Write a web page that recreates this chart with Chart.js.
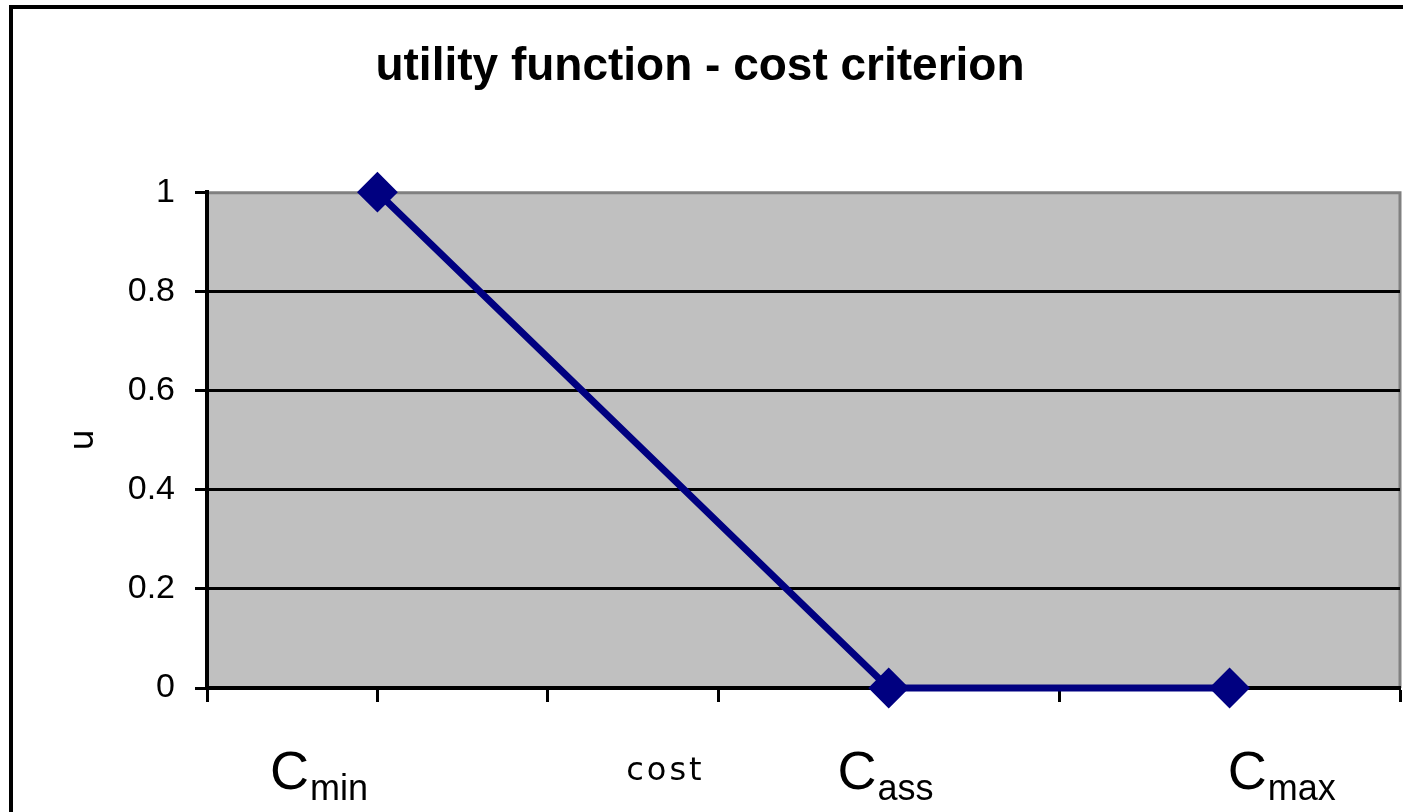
<!DOCTYPE html>
<html>
<head>
<meta charset="utf-8">
<script src="https://cdn.jsdelivr.net/npm/chart.js@4"></script>
<style>
    html, body { margin: 0; padding: 0; background: #ffffff; overflow: hidden; }
    #wrap { width: 1403px; height: 812px; }
</style>
</head>
<body>
<div id="wrap"><canvas id="utilityChart"></canvas></div>
<script>
// dữ liệu
var costX = [1, 4, 6];
var utilityY = [1, 0, 0];
var yTicks = [0, 0.2, 0.4, 0.6, 0.8, 1];
var noteMain = ["C", "C", "C"];
var noteSub = ["min", "ass", "max"];
var noteAt = [0.37, 3.7, 5.99];
var costLabel = "cost";
var costLabelAt = 2.46;

var points = costX.map(function (x, i) {
    return { x: x, y: utilityY[i] };
});

// nền xám, khung ngoài và chữ dưới trục x
var decorPlugin = {
    id: "decor",
    beforeDraw: function (chart) {
        var ctx = chart.ctx;
        var a = chart.chartArea;
        ctx.save();
        ctx.fillStyle = "#000000";
        ctx.fillRect(9, 5, 4, 812);
        ctx.fillRect(9, 5, 1403, 4);
        ctx.fillStyle = "#c0c0c0";
        ctx.fillRect(a.left, a.top, a.right - a.left, a.bottom - a.top);
        ctx.strokeStyle = "#808080";
        ctx.lineWidth = 3;
        ctx.beginPath();
        ctx.moveTo(a.left, a.top + 0.5);
        ctx.lineTo(a.right, a.top + 0.5);
        ctx.lineTo(a.right, a.bottom);
        ctx.stroke();
        ctx.restore();
    },
    afterDraw: function (chart) {
        var ctx = chart.ctx;
        var xs = chart.scales.x;
        ctx.save();
        ctx.fillStyle = "#000000";
        ctx.textBaseline = "alphabetic";
        ctx.textAlign = "left";
        for (var i = 0; i < noteMain.length; i++) {
            var px = xs.getPixelForValue(noteAt[i]);
            ctx.font = "54px 'Liberation Sans', Arial, sans-serif";
            ctx.fillText(noteMain[i], px, 789);
            var w = ctx.measureText(noteMain[i]).width;
            ctx.font = "36px 'Liberation Sans', Arial, sans-serif";
            ctx.fillText(noteSub[i], px + w + 1, 800);
        }
        ctx.font = "32px 'DejaVu Sans', sans-serif";
        ctx.letterSpacing = "3px";
        ctx.fillText(costLabel, xs.getPixelForValue(costLabelAt), 780);
        ctx.restore();
    },
};

var ctx = document.getElementById("utilityChart").getContext("2d");
var utilityChart = new Chart(ctx, {
    type: "scatter",
    data: {
        datasets: [
            {
                label: "u",
                data: points,
                showLine: true,
                borderColor: "#000080",
                backgroundColor: "#000080",
                borderWidth: 7,
                pointStyle: "rectRot",
                pointRadius: 19,
                pointHoverRadius: 19,
                pointBorderWidth: 2,
                clip: false,
            },
        ],
    },
    options: {
        responsive: true,
        maintainAspectRatio: false,
        animation: false,
        layout: {
            autoPadding: false,
            padding: { left: 0, top: 0, right: 3, bottom: 0 },
        },
        plugins: {
            legend: { display: false },
            tooltip: { enabled: false },
            title: {
                display: true,
                text: "utility function - cost criterion",
                color: "#000000",
                font: { family: "'Liberation Sans Narrow', 'Arial Narrow', Arial, sans-serif", size: 46, weight: "bold", lineHeight: 1.2 },
                padding: { top: 40, bottom: 97 },
            },
        },
        scales: {
            x: {
                type: "linear",
                min: 0,
                max: 7,
                ticks: { stepSize: 1, display: false },
                grid: {
                    drawOnChartArea: false,
                    drawTicks: true,
                    tickLength: 14,
                    tickWidth: 3,
                    tickColor: "#000000",
                },
                border: { color: "#000000", width: 4 },
                afterFit: function (scale) {
                    scale.height = 124;
                },
            },
            y: {
                min: 0,
                max: 1,
                afterBuildTicks: function (scale) {
                    scale.ticks = yTicks.map(function (v) {
                        return { value: v };
                    });
                },
                ticks: {
                    color: "#000000",
                    padding: 20,
                    font: { family: "'Liberation Sans', Arial, sans-serif", size: 34 },
                    callback: function (value) {
                        return String(Math.round(value * 10) / 10);
                    },
                },
                grid: {
                    color: function (c) {
                        return c.tick && c.tick.value === 1 ? "rgba(0,0,0,0)" : "#000000";
                    },
                    lineWidth: 3,
                    tickLength: 12,
                    tickWidth: 3,
                    tickColor: "#000000",
                },
                border: { color: "#000000", width: 4 },
                title: {
                    display: true,
                    text: "u",
                    color: "#000000",
                    font: { family: "'DejaVu Sans', sans-serif", size: 34 },
                    padding: { top: 64, bottom: 0 },
                },
                afterFit: function (scale) {
                    scale.width = 207;
                },
            },
        },
    },
    plugins: [decorPlugin],
});
</script>
</body>
</html>
